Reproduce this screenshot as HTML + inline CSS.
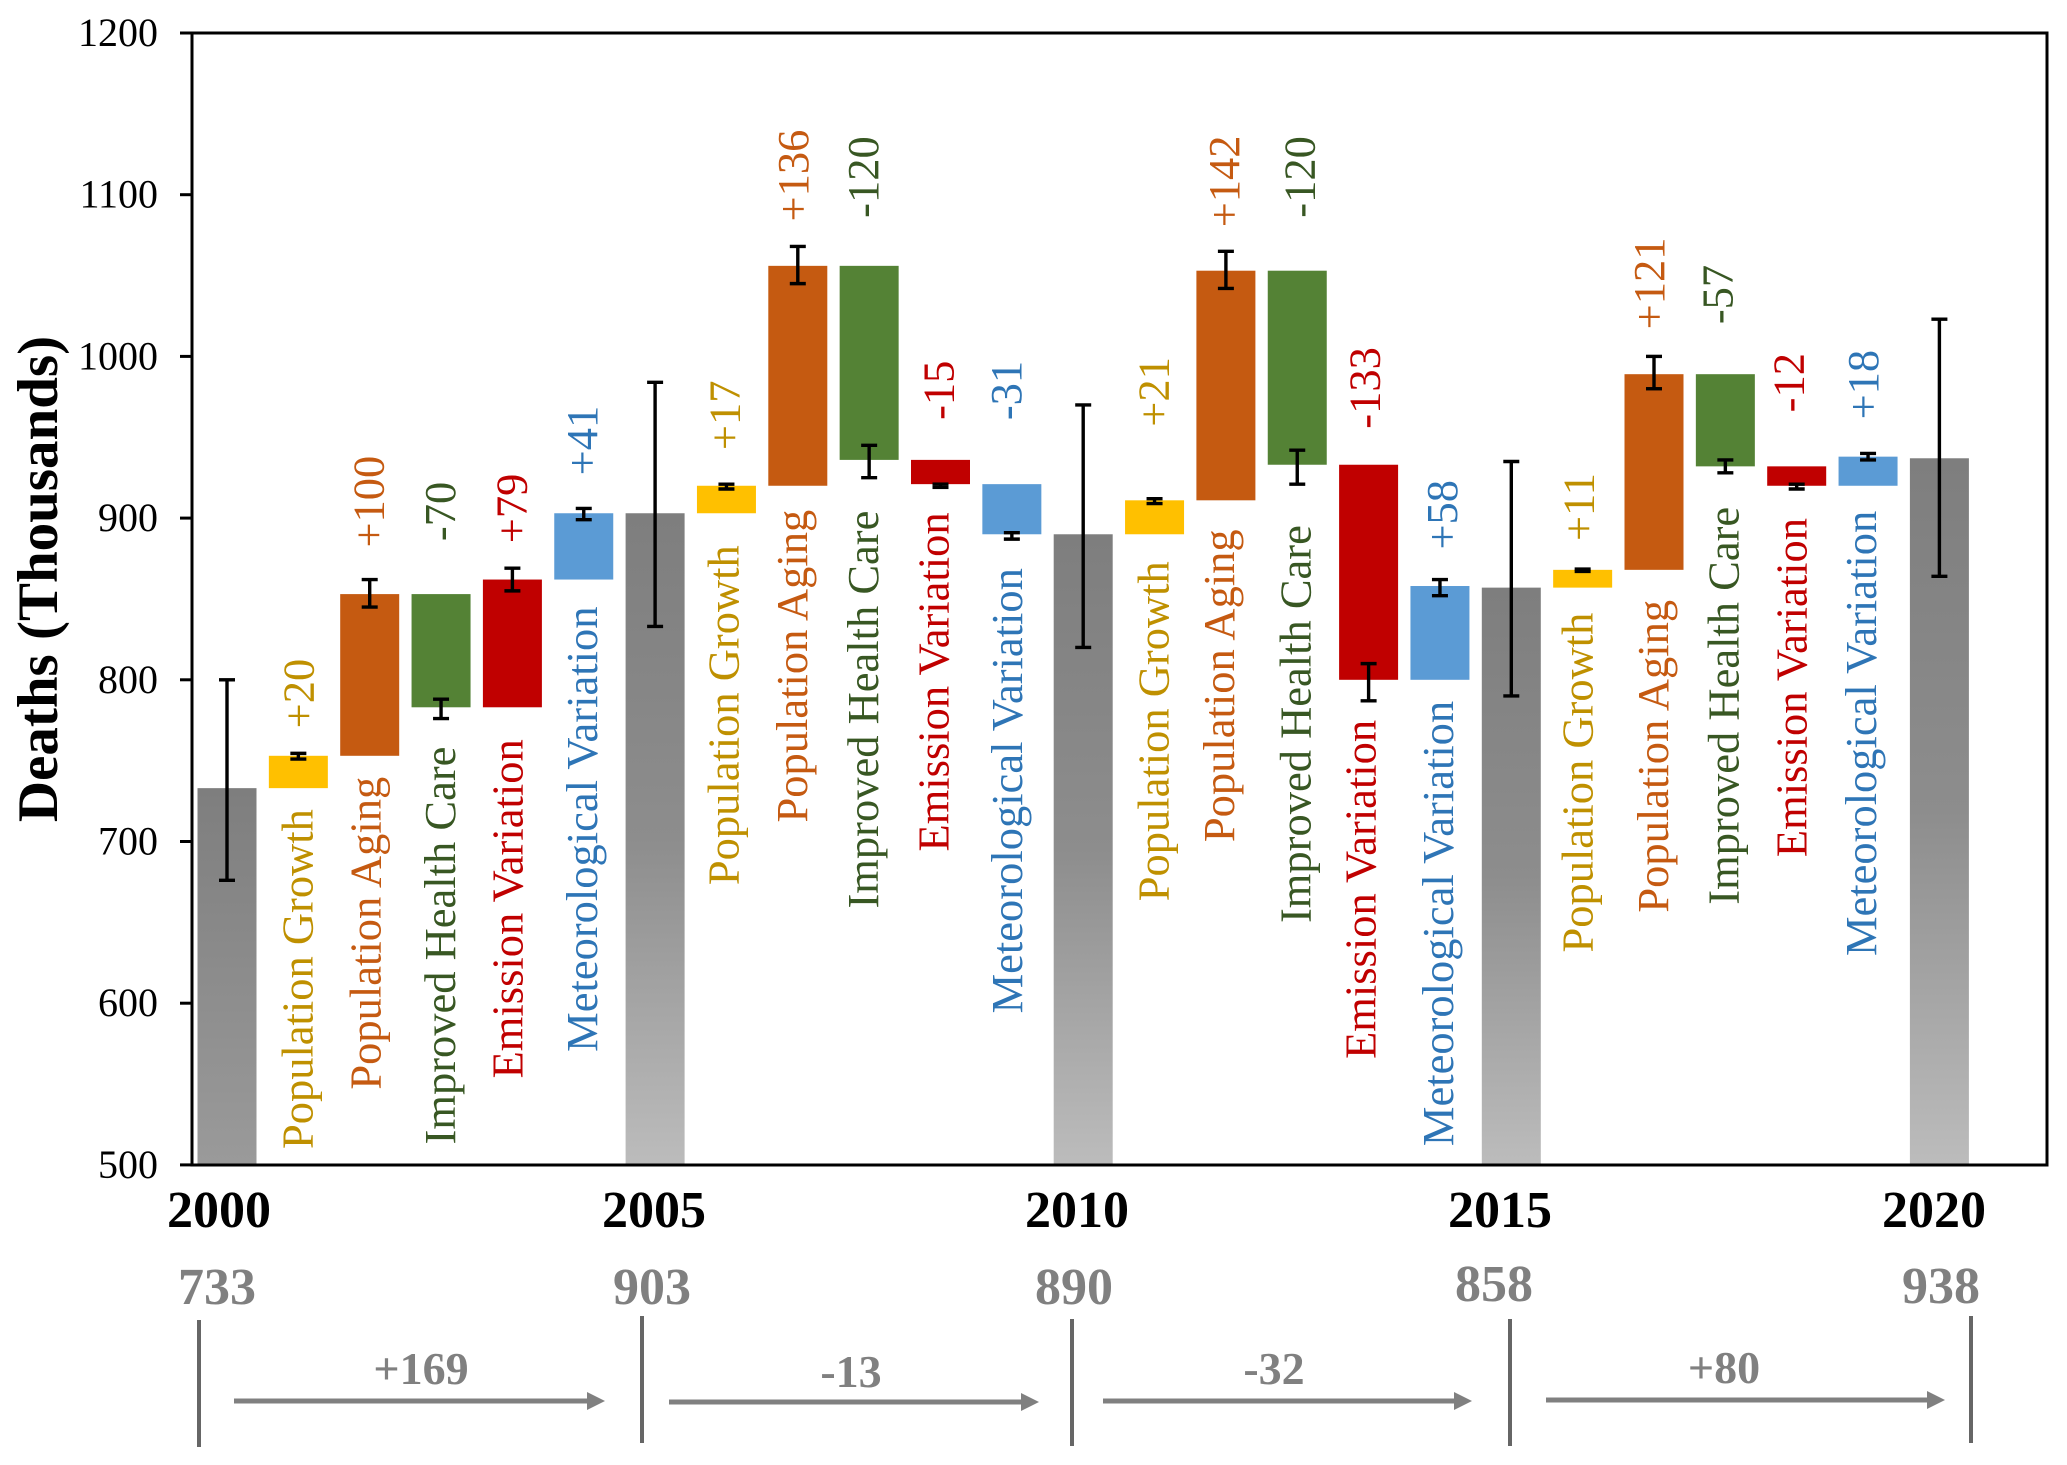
<!DOCTYPE html>
<html lang="en">
<head>
<meta charset="utf-8">
<title>Deaths decomposition waterfall chart</title>
<style>
html,body{margin:0;padding:0;background:#fff;}
svg{display:block;}
text{font-family:"Liberation Serif",serif;}
</style>
</head>
<body>
<svg id="chart" xmlns="http://www.w3.org/2000/svg" width="2067" height="1465" viewBox="0 0 2067 1465">
  <defs>
    <linearGradient id="gray-fill" x1="0" y1="0" x2="0" y2="1">
      <stop offset="0" stop-color="#7e7e7e"/>
      <stop offset="0.5" stop-color="#8d8d8d"/>
      <stop offset="1" stop-color="#bcbcbc"/>
    </linearGradient>
    <linearGradient id="gray-fill-first" x1="0" y1="0" x2="0" y2="1">
      <stop offset="0" stop-color="#7e7e7e"/>
      <stop offset="1" stop-color="#9a9a9a"/>
    </linearGradient>
  </defs>
  <g id="marks"></g>
  <rect x="192" y="33" width="1855" height="1132" fill="none" stroke="#000" stroke-width="3"/>
  <g id="axis"></g>
  <text transform="translate(57 579) rotate(-90)" text-anchor="middle" font-size="57" font-weight="bold" fill="#000">Deaths (Thousands)</text>
  <g id="bottom"></g>
</svg>
<script>
// ---- chart data ----
const categories = ['2000','Population Growth','Population Aging','Improved Health Care','Emission Variation','Meteorological Variation','2005','Population Growth','Population Aging','Improved Health Care','Emission Variation','Meteorological Variation','2010','Population Growth','Population Aging','Improved Health Care','Emission Variation','Meteorological Variation','2015','Population Growth','Population Aging','Improved Health Care','Emission Variation','Meteorological Variation','2020'];
const values = [733,20,100,-70,79,41,903,17,136,-120,-15,-31,890,21,142,-120,-133,58,857,11,121,-57,-12,18,937];
const errorHigh = [800,754.5,862,788,869,906,984,921,1068,945,921,891,970,912,1065,942,810,862,935,868.5,1000,936,921,940,1023];
const errorLow = [676,751,845,776,855,899,833,918,1045,925,919,887,820,909,1042,921,787,852,790,867,980,928,918,936,864];
const yTicks = [500,600,700,800,900,1000,1100,1200];
const yearLabels = ['2000','2005','2010','2015','2020'];
const totalLabels = ['733','903','890','858','938'];
const periodChanges = ['+169','-13','-32','+80'];

// ---- layout constants (not data) ----
const nameGap = [21,21,28,32,27,32,24,33,25,29,27,29,41,19,21,25,30,34,29,25];
const valueGap = [25,32,53,25,33,34,25,48,40,64,72,24,53,36,30,28,27,50,54,34];
const nameShift = [1,-2,1,-3,0,-1,-4,-4,-5,-3,1,-5,0,-6,0,-3,1,0,-3,-5];
const valueShift = [1,0,0,0,-1,-1,-4,-5,-1,-5,0,-1,3,-3,3,-3,-4,-7,-7,-4];
const kindStyle = {
  'Population Growth':{fill:'#FFC000',ink:'#BF9000'},
  'Population Aging':{fill:'#C55A11',ink:'#C55A11'},
  'Improved Health Care':{fill:'#548235',ink:'#385723'},
  'Emission Variation':{fill:'#C00000',ink:'#C00000'},
  'Meteorological Variation':{fill:'#5B9BD5',ink:'#2E75B6'}
};
const NS = 'http://www.w3.org/2000/svg';
const xScale = i => 227 + 71.35 * i;
const yScale = v => 33 + (1200 - v) * 1.617;
const BAR_W = 59;
const marks = document.getElementById('marks');
const axis = document.getElementById('axis');
const bottom = document.getElementById('bottom');

function make(parent, tag, attrs, txt) {
  const el = document.createElementNS(NS, tag);
  for (const k in attrs) el.setAttribute(k, attrs[k]);
  if (txt !== undefined) el.textContent = txt;
  parent.appendChild(el);
  return el;
}

// y axis ticks and labels
yTicks.forEach(t => {
  const y = yScale(t);
  const tick = make(axis, 'line', {x1:180, x2:192, y1:y, y2:y, stroke:'#000', 'stroke-width':3});
  
  
  const lab = make(axis, 'text', {x:158, y:y + 13, 'text-anchor':'end', 'font-size':40, fill:'#000'}, String(t));
  
  
});

// bars, error bars, labels
let running = 0;
let deltaIndex = 0;
const order = [];
categories.forEach((cat, i) => {
  const v = values[i];
  const isTotal = !kindStyle[cat];
  let top, base;
  if (isTotal) {
    running = v;
    top = v;
    base = 500;
  } else {
    top = Math.max(running, running + v);
    base = Math.min(running, running + v);
    running += v;
  }
  order.push({cat, i, top, base, isTotal});
});

order.forEach(o => {
  const cx = xScale(o.i);
  const yTop = yScale(o.top);
  const yBase = yScale(o.base);
  const fill = o.isTotal ? (o.i === 0 ? 'url(#gray-fill-first)' : 'url(#gray-fill)') : kindStyle[o.cat].fill;
  const bar = make(marks, 'rect', {x:cx - BAR_W / 2, y:yTop, width:BAR_W, height:yBase - yTop, fill:fill});
  
  
});

order.forEach(o => {
  const cx = xScale(o.i);
  const hi = yScale(errorHigh[o.i]);
  const lo = yScale(errorLow[o.i]);
  const g = make(marks, 'g', {stroke:'#000', 'stroke-width':3.4});
  
  
  make(g, 'line', {x1:cx, x2:cx, y1:hi, y2:lo});
  make(g, 'line', {x1:cx - 8, x2:cx + 8, y1:hi, y2:hi});
  make(g, 'line', {x1:cx - 8, x2:cx + 8, y1:lo, y2:lo});
  if (o.isTotal) return;
  const st = kindStyle[o.cat];
  const lowest = Math.max(yScale(o.base), lo);
  const highest = Math.min(yScale(o.top), hi);
  const bx = cx + 13 + nameShift[deltaIndex];
  const ny = lowest + nameGap[deltaIndex];
  const name = make(marks, 'text', {transform:'translate(' + bx + ' ' + ny + ') rotate(-90)', 'text-anchor':'end', 'font-size':44.5, fill:st.ink}, o.cat);
  
  
  const vy = highest - valueGap[deltaIndex];
  const txt = (values[o.i] > 0 ? '+' : '') + values[o.i];
  const val = make(marks, 'text', {transform:'translate(' + (cx + 14 + valueShift[deltaIndex]) + ' ' + vy + ') rotate(-90)', 'text-anchor':'start', 'font-size':44.5, fill:st.ink}, txt);
  
  
  deltaIndex++;
});

// bottom summary: years, totals, dividers, arrows
const yearCenters = [219,654,1077,1500,1934];
const totalCenters = [217,652,1074,1494,1941];
const totalBaselines = [1304,1304,1304,1301,1303];
const dividerX = [199,642,1072,1510,1971];
const dividerTop = [1320,1316,1319,1319,1316];
const arrowStart = [234,669,1103,1546];
const arrowEnd = [605,1039,1472,1945];
const arrowY = [1401,1402,1401,1400];
const changeCenters = [421,851,1274,1724];
const changeBaselines = [1384,1387,1384,1383];

yearLabels.forEach((yr, i) => {
  const a = make(bottom, 'text', {x:yearCenters[i], y:1227, 'text-anchor':'middle', 'font-size':52, 'font-weight':'bold', fill:'#000'}, yr);
  
  
  const b = make(bottom, 'text', {x:totalCenters[i], y:totalBaselines[i], 'text-anchor':'middle', 'font-size':52, 'font-weight':'bold', fill:'#808080'}, totalLabels[i]);
  
  
  const d = make(bottom, 'line', {x1:dividerX[i], x2:dividerX[i], y1:dividerTop[i], y2:dividerTop[i] + 127, stroke:'#666', 'stroke-width':4});
  
  
});

periodChanges.forEach((c, i) => {
  const ay = arrowY[i];
  const x1 = arrowStart[i];
  const x2 = arrowEnd[i];
  const line = make(bottom, 'line', {x1:x1, x2:x2 - 16, y1:ay, y2:ay, stroke:'#808080', 'stroke-width':5});
  
  
  const head = make(bottom, 'polygon', {points:(x2 - 18) + ',' + (ay - 9) + ' ' + x2 + ',' + ay + ' ' + (x2 - 18) + ',' + (ay + 9), fill:'#808080'});
  
  
  const t = make(bottom, 'text', {x:changeCenters[i], y:changeBaselines[i], 'text-anchor':'middle', 'font-size':46, 'font-weight':'bold', fill:'#808080'}, c);
  
  
});
</script>
</body>
</html>
